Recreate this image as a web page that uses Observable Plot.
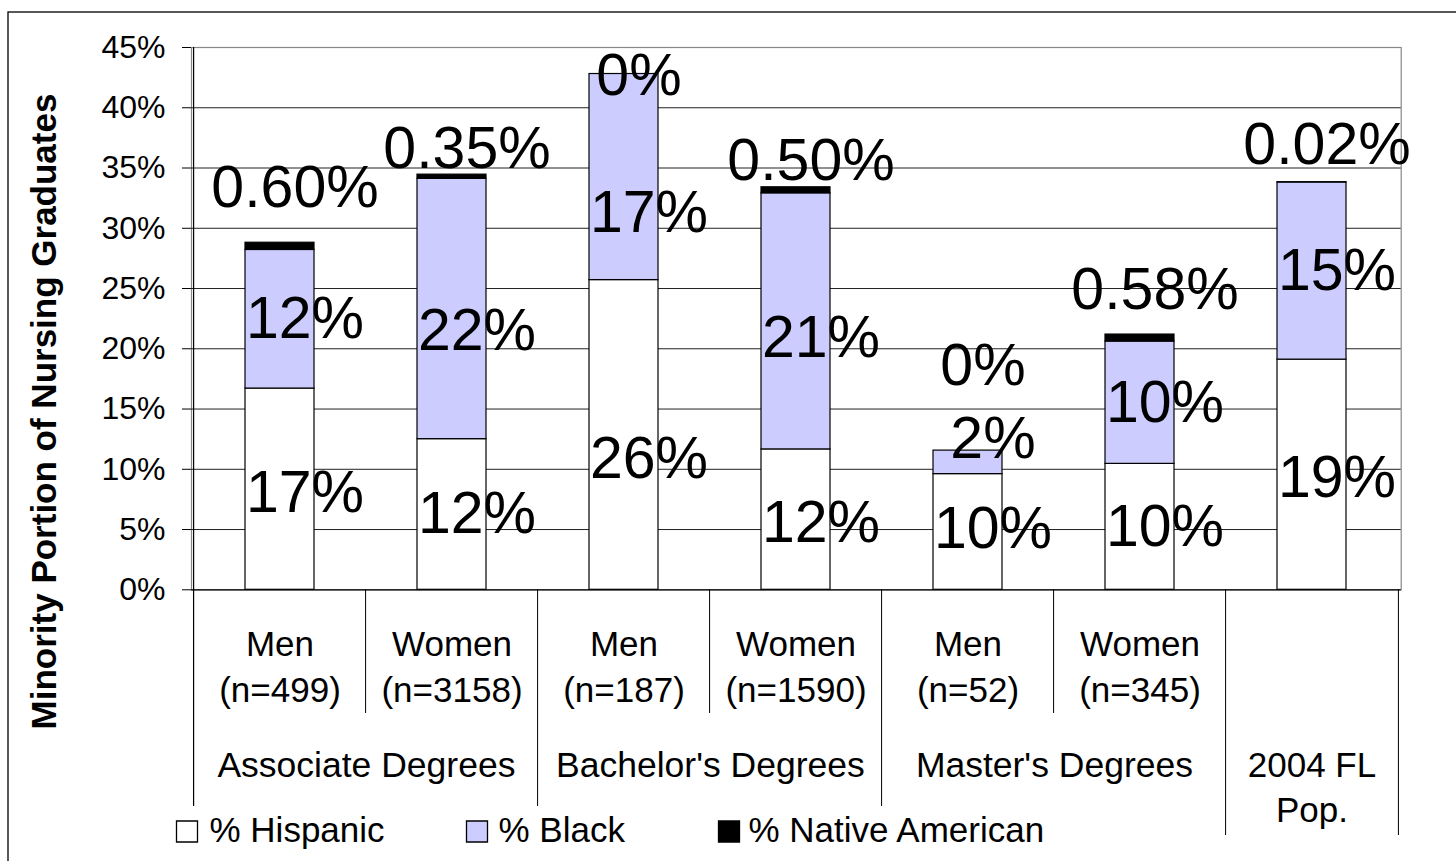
<!DOCTYPE html>
<html><head><meta charset="utf-8">
<script src="https://cdn.jsdelivr.net/npm/d3@7"></script>
<script src="https://cdn.jsdelivr.net/npm/@observablehq/plot@0.6"></script>
<style>html,body{margin:0;padding:0;background:#fff;} svg{display:block;}</style>
</head><body><div id="chart"></div>
<script>
// ---- data ----
const categories = ["Assoc-Men","Assoc-Women","Bach-Men","Bach-Women","Mast-Men","Mast-Women","FL-Pop"];
const genderLabels = ["Men","Women","Men","Women","Men","Women",""];
const sampleLabels = ["(n=499)","(n=3158)","(n=187)","(n=1590)","(n=52)","(n=345)",""];
const groupLabels = ["Associate Degrees","Bachelor's Degrees","Master's Degrees","2004 FL\nPop."];
const groupFirst = ["Assoc-Men","Bach-Men","Mast-Men","FL-Pop"];
const seriesNames = ["% Hispanic","% Black","% Native American"];
const hispanic = [16.7, 12.5, 25.7, 11.65, 9.6, 10.45, 19.1];
const black    = [11.5, 21.6, 17.1, 21.25, 1.95, 10.15, 14.7];
const native   = [0.6, 0.35, 0, 0.5, 0, 0.58, 0.02];
const hispanicLabels = ["17%","12%","26%","12%","10%","10%","19%"];
const blackLabels    = ["12%","22%","17%","21%","2%","10%","15%"];
const nativeLabels   = ["0.60%","0.35%","0%","0.50%","0%","0.58%","0.02%"];
const yTicks = [0,5,10,15,20,25,30,35,40,45];
const yTitle = "Minority Portion of Nursing Graduates";

// ---- label nudges (layout, in y units) ----
const nudges = [
  [-0.3, 0, -2.0, -0.3, 0.2, 0, -0.3],
  [0, -1.85, -3.0, -1.4, 1.9, 0, 0],
  [4.8, 2.3, -0.2, 2.4, 7.0, 4.0, 3.1]
];
const seriesDx = [25, 25, 15];

const valuesBySeries = [hispanic, black, native];
const labelsBySeries = [hispanicLabels, blackLabels, nativeLabels];
const rows = [];
categories.forEach((c, i) => {
  let base = 0;
  seriesNames.forEach((s, j) => {
    const v = valuesBySeries[j][i];
    rows.push({cat: c, series: s, si: j, value: v, label: labelsBySeries[j][i], ly: base + v / 2 + nudges[j][i]});
    base += v;
  });
});
const catTable = categories.map((c, i) => ({cat: c, gender: genderLabels[i], n: sampleLabels[i]}));
const groupTable = groupLabels.map((g, i) => ({cat: groupFirst[i], line1: g.split("\n")[0], line2: g.split("\n")[1] || ""}));

// ---- layout ----
const W = 1456, H = 861;
const mL = 191, mT = 47, mR = 55.3, mB = 271.7;
const step = (W - mL - mR) / categories.length;
const plotH = H - mT - mB;
const base0 = H - mB;
const font = "'Liberation Sans', Arial, sans-serif";
const legendSquareX = [186.5, 476.5, 728.5];
const legendTextX = [209, 498, 748];
const legendY = 831;
const colors = ["#ffffff", "#ccccff", "#000000"];
const catFont = 35;

const marks = [
  Plot.frame({stroke: "#000", strokeWidth: 1.3, insetLeft: -(mL - 7.5), insetTop: -(mT - 11.5), insetRight: -100, insetBottom: -400}),
  Plot.frame({stroke: "#888", strokeWidth: 1.2}),
  Plot.gridY(yTicks.filter(t => t > 0 && t < 45), {stroke: "#222", strokeOpacity: 1, strokeWidth: 1}),
  Plot.barY(rows.filter(d => d.value > 0), {x: "cat", y: "value", fill: "series", stroke: "#000", strokeWidth: 1.2}),
  ...seriesNames.map((s, j) => Plot.text(rows.filter(d => d.si === j), {x: "cat", y: "ly", text: "label", fontSize: 59, dx: seriesDx[j], fill: "#000"})),
  Plot.axisY(yTicks, {tickSize: 9, tickPadding: 17, fontSize: 32, tickFormat: d => d + "%", stroke: "#000", fill: "#000"}),
  Plot.ruleY([0], {stroke: "#000", strokeWidth: 1.2}),
  // left axis + first group separator
  Plot.ruleX([categories[0]], {x: d => d, dx: -step / 2, stroke: "#000", strokeWidth: 1.2, insetBottom: -(806 - base0)}),
  // sub-group separators
  Plot.ruleX(catTable.filter(d => d.gender === "Women"), {x: "cat", dx: -step / 2, stroke: "#000", strokeWidth: 1, insetTop: plotH, insetBottom: -(713 - base0)}),
  // group separators
  Plot.ruleX(["Bach-Men", "Mast-Men"], {x: d => d, dx: -step / 2, stroke: "#000", strokeWidth: 1, insetTop: plotH, insetBottom: -(806 - base0)}),
  Plot.ruleX(["FL-Pop"], {x: d => d, dx: -step / 2, stroke: "#000", strokeWidth: 1, insetTop: plotH, insetBottom: -(835 - base0)}),
  Plot.ruleX(["FL-Pop"], {x: d => d, dx: step / 2, stroke: "#000", strokeWidth: 1, insetTop: plotH, insetBottom: -(835 - base0)}),
  // category labels
  Plot.text(catTable, {x: "cat", text: "gender", frameAnchor: "bottom", dy: 644.5 - base0, fontSize: catFont, lineAnchor: "middle", fill: "#000"}),
  Plot.text(catTable, {x: "cat", text: "n", frameAnchor: "bottom", dy: 690.5 - base0, fontSize: catFont, lineAnchor: "middle", fill: "#000"}),
  Plot.text(groupTable.filter(d => d.cat !== "FL-Pop"), {x: "cat", text: "line1", dx: step / 2, frameAnchor: "bottom", dy: 765.5 - base0, fontSize: catFont + 0.5, lineAnchor: "middle", fill: "#000"}),
  Plot.text(groupTable.filter(d => d.cat === "FL-Pop"), {x: "cat", text: "line1", frameAnchor: "bottom", dy: 765.5 - base0, fontSize: catFont, lineAnchor: "middle", fill: "#000"}),
  Plot.text(groupTable.filter(d => d.cat === "FL-Pop"), {x: "cat", text: "line2", frameAnchor: "bottom", dy: 810.5 - base0, fontSize: catFont, lineAnchor: "middle", fill: "#000"}),
  // y title
  Plot.text([yTitle], {frameAnchor: "left", textAnchor: "middle", rotate: -90, dx: 44.5 - mL, dy: 411 - (mT + plotH / 2), fontSize: 35, fontWeight: "bold", lineAnchor: "middle", fill: "#000"})
];
// legend
seriesNames.forEach((s, i) => {
  marks.push(Plot.dot([s], {frameAnchor: "bottom-left", dx: legendSquareX[i] - mL, dy: legendY - base0, symbol: "square", r: 21 / Math.sqrt(Math.PI), fill: colors[i], stroke: "#000", strokeWidth: 1.3}));
  marks.push(Plot.text([s], {frameAnchor: "bottom-left", dx: legendTextX[i] - mL, dy: legendY - 0.5 - base0, textAnchor: "start", lineAnchor: "middle", fontSize: 35, fill: "#000"}));
});

const chart = Plot.plot({
  width: W, height: H,
  marginLeft: mL, marginTop: mT, marginRight: mR, marginBottom: mB,
  style: {fontFamily: font, background: "#fff", color: "#000", overflow: "visible"},
  x: {domain: categories, paddingInner: 0.6, paddingOuter: 0.3, axis: null},
  y: {domain: [0, 45]},
  color: {domain: seriesNames, range: colors},
  marks
});
document.getElementById("chart").appendChild(chart);
</script>
</body></html>
